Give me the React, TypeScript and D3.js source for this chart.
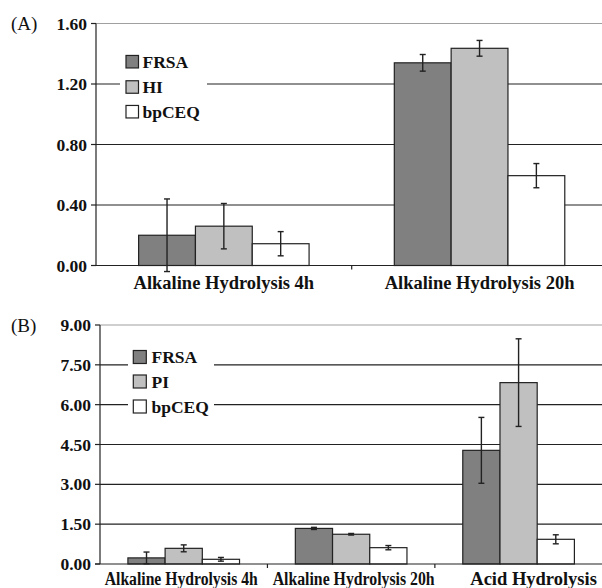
import React from "react";
import * as d3 from "d3";

// Panel A data
const catsA = ["Alkaline Hydrolysis 4h", "Alkaline Hydrolysis 20h"];
const seriesA = ["FRSA", "HI", "bpCEQ"];
const frsaA = [0.2, 1.34];
const frsaAErr = [0.24, 0.055];
const hiA = [0.26, 1.436];
const hiAErr = [0.15, 0.052];
const bpA = [0.144, 0.594];
const bpAErr = [0.08, 0.08];
const ticksA = [0, 0.4, 0.8, 1.2, 1.6];

// Panel B data
const catsB = ["Alkaline Hydrolysis 4h", "Alkaline Hydrolysis 20h", "Acid Hydrolysis"];
const seriesB = ["FRSA", "PI", "bpCEQ"];
const frsaB = [0.23, 1.34, 4.28];
const frsaBErr = [0.22, 0.04, 1.24];
const piB = [0.59, 1.12, 6.83];
const piBErr = [0.13, 0.03, 1.65];
const bpB = [0.177, 0.615, 0.93];
const bpBErr = [0.07, 0.08, 0.17];
const ticksB = [0, 1.5, 3, 4.5, 6, 7.5, 9];

const fills = ["#808080", "#c0c0c0", "#ffffff"];
const FONT = "'Liberation Serif', 'Times New Roman', serif";

type PanelProps = {
  cats: string[];
  series: string[];
  values: number[][];
  errs: number[][];
  ticks: number[];
  x0: number;
  x1: number;
  yTop: number;
  yBottom: number;
  label: string;
  legend: { x: number; y: number; w: number; h: number; sqX: number; sqSize: number; txX: number; rows: number[] };
  catLabelY: number;
  catLabelLen?: (number | null)[];
  catLabelDx?: number[];
};

function Panel(p: PanelProps) {
  const max = p.ticks[p.ticks.length - 1];
  const y = d3.scaleLinear().domain([0, max]).range([p.yBottom, p.yTop]);
  const xc = d3.scaleBand().domain(p.cats).range([p.x0, p.x1]).padding(0);
  const xs = d3
    .scaleBand()
    .domain(p.series)
    .range([0, xc.bandwidth()])
    .paddingInner(0)
    .paddingOuter(0.75);
  const bw = xs.bandwidth();
  const cap = 3;
  return (
    <g>
      {/* gridlines + ticks */}
      {p.ticks.map((t, i) => (
        <g key={i}>
          {t > 0 && (
            <line
              x1={p.x0}
              x2={p.x1}
              y1={y(t)}
              y2={y(t)}
              stroke={t === max ? "#a0a0a0" : "#222"}
              strokeWidth={1.2}
            />
          )}
          <line x1={p.x0 - 5} x2={p.x0} y1={y(t)} y2={y(t)} stroke="#222" strokeWidth={1.2} />
          <text
            x={p.x0 - 9}
            y={y(t)}
            textAnchor="end"
            dominantBaseline="central"
            fontFamily={FONT}
            fontWeight="bold"
            fontSize={17.5}
            fill="#111"
          >
            {t.toFixed(2)}
          </text>
        </g>
      ))}
      {/* legend background */}
      <rect x={p.legend.x} y={p.legend.y} width={p.legend.w} height={p.legend.h} fill="#fff" />
      {/* bars */}
      {p.cats.map((c, ci) =>
        p.series.map((s, si) => {
          const v = p.values[si][ci];
          const bx = (xc(c) as number) + (xs(s) as number);
          return (
            <rect
              key={c + s}
              x={bx}
              y={y(v)}
              width={bw}
              height={y(0) - y(v)}
              fill={fills[si]}
              stroke="#222"
              strokeWidth={1.2}
            />
          );
        })
      )}
      {/* error bars */}
      {p.cats.map((c, ci) =>
        p.series.map((s, si) => {
          const v = p.values[si][ci];
          const e = p.errs[si][ci];
          const cx = (xc(c) as number) + (xs(s) as number) + bw / 2;
          return (
            <g key={"e" + c + s} stroke="#222" strokeWidth={1.4}>
              <line x1={cx} x2={cx} y1={y(v + e)} y2={y(v - e)} />
              <line x1={cx - cap} x2={cx + cap} y1={y(v + e)} y2={y(v + e)} />
              <line x1={cx - cap} x2={cx + cap} y1={y(v - e)} y2={y(v - e)} />
            </g>
          );
        })
      )}
      {/* axes */}
      <line x1={p.x0} x2={p.x0} y1={y(max)} y2={y(0)} stroke="#222" strokeWidth={1.2} />
      <line x1={p.x0 - 5} x2={p.x1} y1={y(0)} y2={y(0)} stroke="#222" strokeWidth={1.2} />
      {p.cats.slice(1).map((c) => (
        <line
          key={"t" + c}
          x1={xc(c) as number}
          x2={xc(c) as number}
          y1={y(0)}
          y2={y(0) + 4}
          stroke="#222"
          strokeWidth={1.2}
        />
      ))}
      {/* category labels */}
      {p.cats.map((c, ci) => {
        const len = p.catLabelLen ? p.catLabelLen[ci] : null;
        const dx = p.catLabelDx ? p.catLabelDx[ci] : 0;
        const cx = (xc(c) as number) + xc.bandwidth() / 2 + dx;
        return (
          <text
            key={"l" + c}
            x={len ? cx - len / 2 : cx}
            y={p.catLabelY}
            textAnchor={len ? "start" : "middle"}
            fontFamily={FONT}
            fontWeight="bold"
            fontSize={18.5}
            fill="#111"
            {...(len ? { textLength: len, lengthAdjust: "spacingAndGlyphs" } : {})}
          >
            {c}
          </text>
        );
      })}
      {/* legend */}
      {p.series.map((s, si) => (
        <g key={"lg" + s}>
          <rect
            x={p.legend.sqX}
            y={p.legend.rows[si] - p.legend.sqSize / 2}
            width={p.legend.sqSize}
            height={p.legend.sqSize}
            fill={fills[si]}
            stroke="#222"
            strokeWidth={1.2}
          />
          <text
            x={p.legend.txX}
            y={p.legend.rows[si]}
            dominantBaseline="central"
            fontFamily={FONT}
            fontWeight="bold"
            fontSize={17.5}
            fill="#111"
          >
            {s}
          </text>
        </g>
      ))}
      {/* panel label */}
      <text
        x={11}
        y={y(max)}
        dominantBaseline="central"
        fontFamily={FONT}
        fontSize={19}
        fill="#111"
      >
        {p.label}
      </text>
    </g>
  );
}

export default function App() {
  return (
    <svg
      width={602}
      height={588}
      style={{ position: "absolute", left: 0, top: 0, background: "#fff" }}
    >
      <rect x={0} y={0} width={602} height={588} fill="#fff" />
      <Panel
        cats={catsA}
        series={seriesA}
        values={[frsaA, hiA, bpA]}
        errs={[frsaAErr, hiAErr, bpAErr]}
        ticks={ticksA}
        x0={96}
        x1={607.4}
        yTop={23.5}
        yBottom={265.5}
        label="(A)"
        legend={{ x: 120, y: 45, w: 87, h: 80, sqX: 126, sqSize: 12.5, txX: 142.5, rows: [61.7, 87, 111.7] }}
        catLabelY={289}
      />
      <Panel
        cats={catsB}
        series={seriesB}
        values={[frsaB, piB, bpB]}
        errs={[frsaBErr, piBErr, bpBErr]}
        ticks={ticksB}
        x0={100}
        x1={602.3}
        yTop={325}
        yBottom={564}
        label="(B)"
        legend={{ x: 128, y: 342, w: 86, h: 78, sqX: 133.3, sqSize: 13, txX: 151.5, rows: [357, 381.5, 406.5] }}
        catLabelY={585}
        catLabelLen={[153, 162, null]}
        catLabelDx={[-2.5, 2.5, 15]}
      />
    </svg>
  );
}
